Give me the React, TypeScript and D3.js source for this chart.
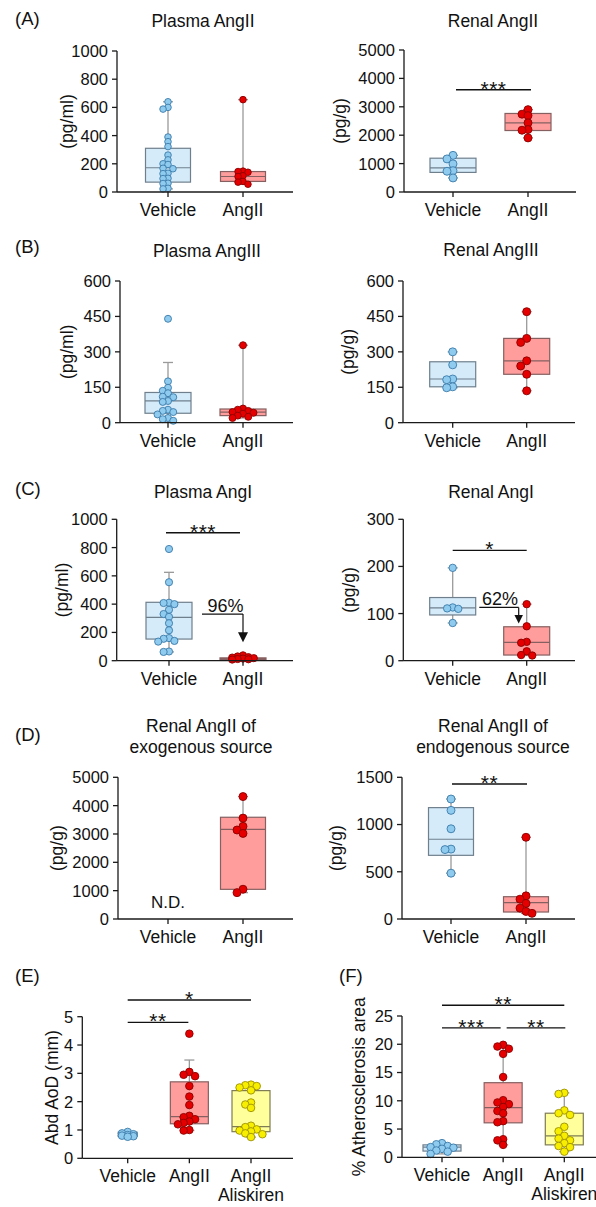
import React from 'react';
import * as d3 from 'd3';

const FONT = '"Liberation Sans", Arial, Helvetica, sans-serif';

// ---------------- DATA ----------------
// (A) Plasma AngII (pg/ml)
const plasmaAngII_veh = [640, 600, 588, 390, 357, 322, 262, 228, 200, 195, 168, 165, 133, 130, 97, 95, 62, 60, 26, 22];
const plasmaAngII_vehBox = [22, 70, 172, 310, 640];
const plasmaAngII_ang = [655, 148, 145, 140, 115, 110, 75, 70, 55];
const plasmaAngII_angBox = [55, 75, 110, 145, 655];
// (A) Renal AngII (pg/g)
const renalAngII_veh = [1290, 1165, 990, 750, 730, 495];
const renalAngII_vehBox = [495, 690, 850, 1190, 1290];
const renalAngII_ang = [2900, 2740, 2690, 2435, 2200, 2175, 1905];
const renalAngII_angBox = [1905, 2165, 2435, 2765, 2900];
// (B) Plasma AngIII (pg/ml)
const plasmaAngIII_veh = [440, 175, 148, 135, 125, 110, 108, 92, 88, 55, 50, 45, 35, 20, 15, 8];
const plasmaAngIII_vehBox = [8, 40, 92, 128, 255];
const plasmaAngIII_ang = [328, 60, 55, 50, 45, 42, 38, 30, 25, 20];
const plasmaAngIII_angBox = [20, 30, 45, 58, 328];
// (B) Renal AngIII (pg/g)
const renalAngIII_veh = [300, 245, 185, 182, 152, 148];
const renalAngIII_vehBox = [148, 152, 185, 258, 300];
const renalAngIII_ang = [470, 357, 340, 262, 240, 205, 135];
const renalAngIII_angBox = [135, 205, 262, 357, 470];
// (C) Plasma AngI (pg/ml)
const plasmaAngI_veh = [790, 555, 410, 408, 400, 360, 330, 310, 265, 215, 160, 155, 140, 135, 65, 62];
const plasmaAngI_vehBox = [62, 153, 307, 413, 625];
const plasmaAngI_ang = [38, 30, 25, 22, 18, 15, 12, 10, 8];
const plasmaAngI_angBox = [5, 8, 15, 20, 38];
// (C) Renal AngI (pg/g)
const renalAngI_veh = [197, 113, 111, 110, 80];
const renalAngI_vehBox = [80, 97, 112, 134, 197];
const renalAngI_ang = [120, 73, 40, 38, 20, 12, 11];
const renalAngI_angBox = [11, 12, 39, 72, 120];
// (D) Renal AngII exogenous (pg/g)
const exoAngII_ang = [4320, 3560, 3270, 3140, 3020, 1050, 930];
const exoAngII_angBox = [930, 1047, 3160, 3590, 4320];
// (D) Renal AngII endogenous (pg/g)
const endoAngII_veh = [1270, 1150, 955, 740, 735, 485];
const endoAngII_vehBox = [485, 674, 844, 1179, 1270];
const endoAngII_ang = [865, 245, 210, 165, 115, 80, 60];
const endoAngII_angBox = [60, 74, 173, 236, 865];
// (E) Abd AoD (mm)
const aod_veh = [0.93, 0.88, 0.85, 0.82, 0.8, 0.78, 0.76];
const aod_vehBox = [0.75, 0.77, 0.81, 0.92, 0.93];
const aod_ang = [4.4, 3.05, 2.95, 2.9, 2.55, 2.18, 1.88, 1.5, 1.45, 1.38, 1.3, 1.25, 1.2, 1.0, 0.98];
const aod_angBox = [0.98, 1.22, 1.47, 2.7, 3.47];
const aod_ali = [2.6, 2.58, 2.55, 2.5, 2.4, 1.97, 1.9, 1.78, 1.15, 1.1, 1.02, 0.98, 0.95, 0.88, 0.85, 0.75];
const aod_aliBox = [0.75, 0.94, 1.12, 2.39, 2.6];
// (F) % Atherosclerosis area
const ath_veh = [2.5, 2.3, 2.0, 1.8, 1.7, 1.5, 1.2, 1.0, 0.6];
const ath_vehBox = [0.6, 1.1, 1.8, 2.2, 2.5];
const ath_ang = [19.9, 19.6, 19.2, 18.3, 14.2, 10.1, 9.7, 9.4, 8.9, 8.2, 7.8, 6.4, 6.2, 3.2, 3.0, 2.2];
const ath_angBox = [2.2, 6.1, 8.8, 13.2, 19.9];
const ath_ali = [11.4, 11.2, 8.3, 7.8, 7.5, 5.4, 4.6, 3.8, 3.3, 3.0, 2.5, 2.0, 1.8, 1.0];
const ath_aliBox = [1.0, 2.2, 3.8, 7.8, 11.4];

// tick values
const ticks1000 = [0, 200, 400, 600, 800, 1000];
const ticks5000 = [0, 1000, 2000, 3000, 4000, 5000];
const ticks600 = [0, 150, 300, 450, 600];
const ticks300 = [0, 100, 200, 300];
const ticks1500 = [0, 500, 1000, 1500];
const ticks5 = [0, 1, 2, 3, 4, 5];
const ticks25 = [0, 5, 10, 15, 20, 25];

const cats2 = ['Vehicle', 'AngII'];
const cats3 = ['Vehicle', 'AngII', 'AngII\nAliskiren'];

// ---------------- STYLE ----------------
type Kind = 'veh' | 'ang' | 'ali';
const COLORS: Record<Kind, { boxFill: string; boxStroke: string; pt: string; ptStroke: string }> = {
  veh: { boxFill: '#d5ebfa', boxStroke: '#6f7f8c', pt: '#8fcaef', ptStroke: '#3b7aa8' },
  ang: { boxFill: '#ff9d9d', boxStroke: '#866060', pt: '#e40000', ptStroke: '#8c0000' },
  ali: { boxFill: '#ffff9c', boxStroke: '#7f7c55', pt: '#f7ee00', ptStroke: '#9c9000' },
};

interface Group { kind: Kind; values: number[]; box: number[] | null; w: number }
interface Sig { a: number; b: number; da: number; db: number; v: number; text: string }
interface Arrow { x1: number; x2: number; v: number; tip: number; text: string; tx: number; headW: number; headH: number }
interface Panel {
  letter?: string; letterX?: number; letterY?: number;
  title?: string[]; titleX?: number; titleY?: number[];
  x0: number; x1: number; yTop: number; y0: number; max: number; ticks: number[];
  catRange: [number, number]; cats: string[];
  groups: (Group | null)[]; r: number;
  ylabel: string; ylabelX: number;
  sigs?: Sig[]; arrows?: Arrow[]; nd?: boolean;
}

const panels: Panel[] = [
  {
    letter: '(A)', letterX: 15, letterY: 25, title: ['Plasma AngII'], titleX: 203, titleY: [27],
    x0: 117, x1: 293, yTop: 51, y0: 192, max: 1000, ticks: ticks1000, catRange: [168, 243], cats: cats2,
    groups: [
      { kind: 'veh', values: plasmaAngII_veh, box: plasmaAngII_vehBox, w: 45 },
      { kind: 'ang', values: plasmaAngII_ang, box: plasmaAngII_angBox, w: 45 },
    ], r: 3.3, ylabel: '(pg/ml)', ylabelX: 67,
  },
  {
    title: ['Renal AngII'], titleX: 493, titleY: [27],
    x0: 404, x1: 576, yTop: 50, y0: 192, max: 5000, ticks: ticks5000, catRange: [453, 528], cats: cats2,
    groups: [
      { kind: 'veh', values: renalAngII_veh, box: renalAngII_vehBox, w: 46 },
      { kind: 'ang', values: renalAngII_ang, box: renalAngII_angBox, w: 46 },
    ], r: 4, ylabel: '(pg/g)', ylabelX: 340,
    sigs: [{ a: 0, b: 1, da: 3, db: 3, v: 3600, text: '***' }],
  },
  {
    letter: '(B)', letterX: 15, letterY: 253, title: ['Plasma AngIII'], titleX: 207, titleY: [257],
    x0: 120, x1: 293, yTop: 281, y0: 422.7, max: 600, ticks: ticks600, catRange: [168, 243], cats: cats2,
    groups: [
      { kind: 'veh', values: plasmaAngIII_veh, box: plasmaAngIII_vehBox, w: 46 },
      { kind: 'ang', values: plasmaAngIII_ang, box: plasmaAngIII_angBox, w: 46 },
    ], r: 3.5, ylabel: '(pg/ml)', ylabelX: 67,
  },
  {
    title: ['Renal AngIII'], titleX: 491, titleY: [256],
    x0: 403, x1: 575, yTop: 281, y0: 422.7, max: 600, ticks: ticks600, catRange: [452.7, 526.7], cats: cats2,
    groups: [
      { kind: 'veh', values: renalAngIII_veh, box: renalAngIII_vehBox, w: 46 },
      { kind: 'ang', values: renalAngIII_ang, box: renalAngIII_angBox, w: 46 },
    ], r: 4, ylabel: '(pg/g)', ylabelX: 348,
  },
  {
    letter: '(C)', letterX: 15, letterY: 495, title: ['Plasma AngI'], titleX: 203, titleY: [497.7],
    x0: 116.7, x1: 293, yTop: 519.3, y0: 660.7, max: 1000, ticks: ticks1000, catRange: [169, 243], cats: cats2,
    groups: [
      { kind: 'veh', values: plasmaAngI_veh, box: plasmaAngI_vehBox, w: 46 },
      { kind: 'ang', values: plasmaAngI_ang, box: plasmaAngI_angBox, w: 46 },
    ], r: 3.6, ylabel: '(pg/ml)', ylabelX: 62,
    sigs: [{ a: 0, b: 1, da: -3, db: -3, v: 905, text: '***' }],
    arrows: [{ x1: 202, x2: 243, v: 330, tip: 130, text: '96%', tx: 225.5, headW: 10, headH: 10 }],
  },
  {
    title: ['Renal AngI'], titleX: 491, titleY: [497.7],
    x0: 403.3, x1: 575, yTop: 519.3, y0: 660.7, max: 300, ticks: ticks300, catRange: [452.7, 526.7], cats: cats2,
    groups: [
      { kind: 'veh', values: renalAngI_veh, box: renalAngI_vehBox, w: 46 },
      { kind: 'ang', values: renalAngI_ang, box: renalAngI_angBox, w: 46 },
    ], r: 3.7, ylabel: '(pg/g)', ylabelX: 349,
    sigs: [{ a: 0, b: 1, da: 0, db: 0, v: 234, text: '*' }],
    arrows: [{ x1: 479.3, x2: 518.7, v: 113, tip: 79, text: '62%', tx: 500, headW: 8.5, headH: 8.5 }],
  },
  {
    letter: '(D)', letterX: 15, letterY: 740.7, title: ['Renal AngII of', 'exogenous source'], titleX: 201, titleY: [732.3, 753.3],
    x0: 118, x1: 293, yTop: 777.3, y0: 919, max: 5000, ticks: ticks5000, catRange: [168, 243], cats: cats2,
    groups: [null, { kind: 'ang', values: exoAngII_ang, box: exoAngII_angBox, w: 45 }],
    r: 4, ylabel: '(pg/g)', ylabelX: 57, nd: true,
  },
  {
    title: ['Renal AngII of', 'endogenous source'], titleX: 493, titleY: [732.3, 753.3],
    x0: 402, x1: 575, yTop: 777.3, y0: 919, max: 1500, ticks: ticks1500, catRange: [451, 526], cats: cats2,
    groups: [
      { kind: 'veh', values: endoAngII_veh, box: endoAngII_vehBox, w: 45 },
      { kind: 'ang', values: endoAngII_ang, box: endoAngII_angBox, w: 45 },
    ], r: 4, ylabel: '(pg/g)', ylabelX: 336,
    sigs: [{ a: 0, b: 1, da: 1, db: 1, v: 1429, text: '**' }],
  },
  {
    letter: '(E)', letterX: 15, letterY: 981.7,
    x0: 82.3, x1: 293, yTop: 1016.7, y0: 1158.3, max: 5, ticks: ticks5, catRange: [127.7, 251], cats: cats3,
    groups: [
      { kind: 'veh', values: aod_veh, box: aod_vehBox, w: 19 },
      { kind: 'ang', values: aod_ang, box: aod_angBox, w: 38 },
      { kind: 'ali', values: aod_ali, box: aod_aliBox, w: 38 },
    ], r: 3.8, ylabel: 'Abd AoD (mm)', ylabelX: 52,
    sigs: [
      { a: 0, b: 1, da: 0, db: -1, v: 4.8, text: '**' },
      { a: 0, b: 2, da: 0, db: 0, v: 5.59, text: '*' },
    ],
  },
  {
    letter: '(F)', letterX: 339, letterY: 981.7,
    x0: 402, x1: 596, yTop: 1016, y0: 1157.3, max: 25, ticks: ticks25, catRange: [442, 564.3], cats: cats3,
    groups: [
      { kind: 'veh', values: ath_veh, box: ath_vehBox, w: 38 },
      { kind: 'ang', values: ath_ang, box: ath_angBox, w: 38 },
      { kind: 'ali', values: ath_ali, box: ath_aliBox, w: 38 },
    ], r: 3.8, ylabel: '% Atherosclerosis area', ylabelX: 359,
    sigs: [
      { a: 0, b: 1, da: 0, db: -2.5, v: 22.9, text: '***' },
      { a: 1, b: 2, da: 3.5, db: 1, v: 22.9, text: '**' },
      { a: 0, b: 2, da: 0, db: 0, v: 26.9, text: '**' },
    ],
  },
];

// compact beeswarm placement (points may overlap, limited width)
function swarm(values: number[], y: (v: number) => number, cx: number, r: number, maxOff: number) {
  const pts = values.map((v) => ({ v, y: y(v) })).sort((a, b) => a.y - b.y);
  const placed: { x: number; y: number }[] = [];
  const step = 1.5 * r;
  const minD = 1.35 * r;
  for (const p of pts) {
    let best = { x: cx, d: -1 };
    let done = false;
    for (let k = 0; k < 30; k++) {
      const m = Math.ceil(k / 2);
      const off = k === 0 ? 0 : (k % 2 === 1 ? -m : m) * step;
      if (Math.abs(off) > maxOff) break;
      const x = cx + off;
      const d = placed.length ? Math.min(...placed.map((q) => Math.hypot(q.x - x, q.y - p.y))) : Infinity;
      if (d >= minD) {
        placed.push({ x, y: p.y });
        done = true;
        break;
      }
      if (d > best.d) best = { x, d };
    }
    if (!done) placed.push({ x: best.x, y: p.y });
  }
  return placed;
}

const AXIS = '#1a1a1a';
const WHISK = '#9a9a9a';

function PanelView({ p }: { p: Panel }) {
  const y = d3.scaleLinear().domain([0, p.max]).range([p.y0, p.yTop]);
  const x = d3.scalePoint<number>().domain(p.cats.map((_, i) => i)).range(p.catRange);
  const mid = (p.yTop + p.y0) / 2;
  return (
    <g>
      {p.letter && (
        <text x={p.letterX} y={p.letterY} fontSize={18.5} fill="#111">{p.letter}</text>
      )}
      {p.title && p.title.map((t, i) => (
        <text key={i} x={p.titleX} y={p.titleY![i]} fontSize={17.5} textAnchor="middle" fill="#111">{t}</text>
      ))}
      <text transform={`translate(${p.ylabelX},${mid}) rotate(-90)`} fontSize={17.5} textAnchor="middle" dominantBaseline="central" fill="#111">{p.ylabel}</text>
      {p.groups.map((g, i) => {
        if (!g || !g.box) return null;
        const cx = x(i)!;
        const [lo, q1, med, q3, hi] = g.box;
        const c = COLORS[g.kind];
        const hw = g.w / 2;
        return (
          <g key={'b' + i}>
            <line x1={cx} x2={cx} y1={y(hi)} y2={y(q3)} stroke={WHISK} strokeWidth={1.3} />
            <line x1={cx} x2={cx} y1={y(q1)} y2={y(lo)} stroke={WHISK} strokeWidth={1.3} />
            <line x1={cx - 5} x2={cx + 5} y1={y(hi)} y2={y(hi)} stroke={WHISK} strokeWidth={1.3} />
            <line x1={cx - 5} x2={cx + 5} y1={y(lo)} y2={y(lo)} stroke={WHISK} strokeWidth={1.3} />
            <rect x={cx - hw} y={y(q3)} width={g.w} height={Math.max(1, y(q1) - y(q3))} fill={c.boxFill} stroke={c.boxStroke} strokeWidth={1.2} />
            <line x1={cx - hw} x2={cx + hw} y1={y(med)} y2={y(med)} stroke={c.boxStroke} strokeWidth={1.2} />
          </g>
        );
      })}
      {p.groups.map((g, i) => {
        if (!g) return null;
        const c = COLORS[g.kind];
        const maxOff = Math.max(g.w / 2 - p.r - 2, 6.5);
        const pts = swarm(g.values, y, x(i)!, p.r, Math.min(maxOff, 13));
        return (
          <g key={'p' + i}>
            {pts.map((pt, j) => (
              <circle key={j} cx={pt.x} cy={pt.y} r={p.r} fill={c.pt} stroke={c.ptStroke} strokeWidth={0.9} />
            ))}
          </g>
        );
      })}
      <line x1={p.x0} x2={p.x0} y1={p.yTop} y2={p.y0} stroke={AXIS} strokeWidth={1.3} />
      <line x1={p.x0} x2={p.x1} y1={p.y0} y2={p.y0} stroke={AXIS} strokeWidth={1.3} />
      {p.ticks.map((t) => (
        <g key={'t' + t}>
          <line x1={p.x0 - 5} x2={p.x0} y1={y(t)} y2={y(t)} stroke={AXIS} strokeWidth={1.3} />
          <text x={p.x0 - 9} y={y(t)} dy="0.36em" fontSize={16.5} textAnchor="end" fill="#111">{t}</text>
        </g>
      ))}
      {p.cats.map((c, i) => (
        <g key={'c' + i}>
          <line x1={x(i)} x2={x(i)} y1={p.y0} y2={p.y0 + 5} stroke={AXIS} strokeWidth={1.3} />
          {c.split('\n').map((s, k) => (
            <text key={k} x={x(i)} y={p.y0 + 24 + k * 19} fontSize={17.5} textAnchor="middle" fill="#111">{s}</text>
          ))}
        </g>
      ))}
      {(p.sigs || []).map((s, i) => {
        const xa = x(s.a)! + s.da;
        const xb = x(s.b)! + s.db;
        const yy = y(s.v);
        return (
          <g key={'s' + i}>
            <line x1={xa} x2={xb} y1={yy} y2={yy} stroke="#111" strokeWidth={1.4} />
            <text x={(xa + xb) / 2} y={yy + 6} fontSize={21} letterSpacing={0.5} textAnchor="middle" fill="#111">{s.text}</text>
          </g>
        );
      })}
      {(p.arrows || []).map((a, i) => {
        const yy = y(a.v);
        const tip = y(a.tip);
        return (
          <g key={'a' + i}>
            <line x1={a.x1} x2={a.x2} y1={yy} y2={yy} stroke="#111" strokeWidth={1.2} />
            <line x1={a.x2} x2={a.x2} y1={yy} y2={tip - a.headH + 1} stroke="#111" strokeWidth={1.2} />
            <path d={`M${a.x2 - a.headW / 2},${tip - a.headH} L${a.x2 + a.headW / 2},${tip - a.headH} L${a.x2},${tip} Z`} fill="#111" />
            <text x={a.tx} y={yy - 2.5} fontSize={18} textAnchor="middle" fill="#111">{a.text}</text>
          </g>
        );
      })}
      {p.nd && (
        <text x={x(0)} y={908.3} fontSize={17} textAnchor="middle" fill="#111">N.D.</text>
      )}
    </g>
  );
}

export default function App() {
  return (
    <svg width={596} height={1207} viewBox="0 0 596 1207" style={{ position: 'absolute', left: 0, top: 0, background: '#fff' }} fontFamily={FONT}>
      <rect x={0} y={0} width={596} height={1207} fill="#fff" />
      {panels.map((p, i) => <PanelView key={i} p={p} />)}
    </svg>
  );
}
